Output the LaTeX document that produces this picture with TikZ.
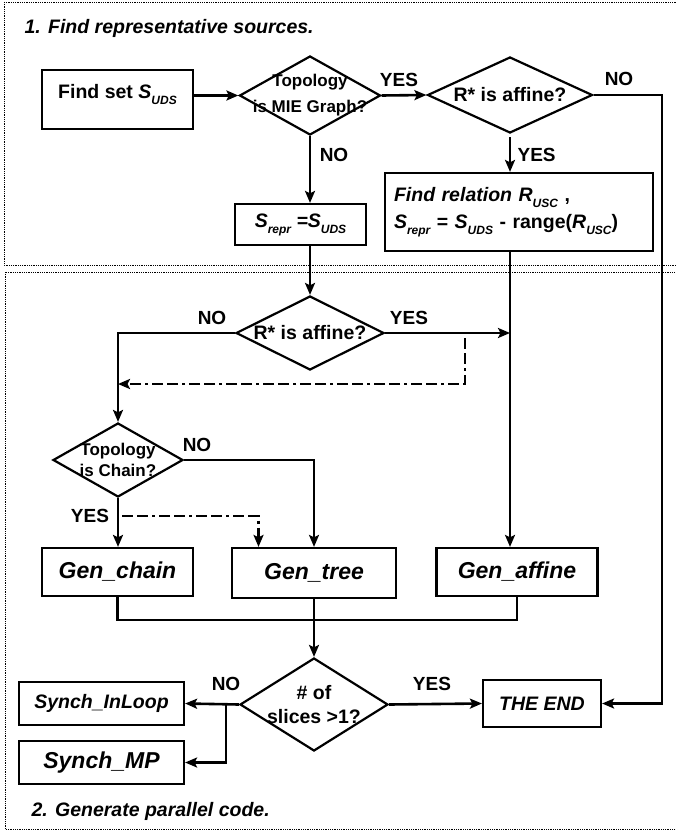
\documentclass[tikz,border=0pt]{standalone}
\usepackage{fontspec}
\setmainfont{Liberation Sans}
\usepackage{tikz}
\usetikzlibrary{arrows.meta,shapes.geometric}
\newcommand{\lowsub}[1]{\raisebox{-6pt}{\fontsize{12}{12}\selectfont #1}}
\newcommand{\fsz}[1]{\fontsize{#1}{#1}\selectfont}

\begin{document}
\begin{tikzpicture}[x=1pt,y=-1pt,line width=2.6pt,
  >={Stealth[length=12pt,width=10pt,inset=2.5pt]},
  box/.style={draw,rectangle,line width=2.2pt,inner sep=0pt,font=\bfseries\fsz{19.5}},
  decide/.style={draw,diamond,line width=2.2pt,inner sep=-4pt,font=\bfseries\fsz{19.5},align=center},
  answer/.style={font=\bfseries\fsz{19}},
  dashdot/.style={dash pattern=on 11pt off 4pt on 11pt off 4pt on 3pt off 4pt,line width=2.6pt},
  frame/.style={densely dotted,line width=0.8pt}]
\useasboundingbox (0,0) rectangle (676,832);
\draw[frame] (4,2) rectangle (690,265);
\draw[frame] (5,272) rectangle (690,829);
\node[anchor=west,font=\bfseries\itshape\fsz{19.5}] (title1) at (20,28) {1. Find representative sources.};
\node[anchor=west,font=\bfseries\itshape\fsz{19.5}] (title2) at (27,811) {2. Generate parallel code.};

\node[box,minimum width=151pt,minimum height=59pt] (find) at (117.5,99.5)
  {Find set \textit{S\lowsub{UDS}}\rule[-17pt]{0pt}{0pt}};
\node[decide,minimum width=141pt,minimum height=79pt,shape aspect=1.78,font=\bfseries\fsz{17},inner sep=-14pt] (mie) at (310,95.5)
  {Topology\\[9pt]is MIE Graph?};
\node[decide,minimum width=165pt,minimum height=76pt,shape aspect=2.17] (aff1) at (510,95) {R* is affine?};
\node[box,minimum width=131pt,minimum height=41pt,font=\bfseries\itshape\fsz{19.5}] (srepr) at (300.5,224.5)
  {S\lowsub{repr} =S\lowsub{UDS}};
\node[box,minimum width=268pt,minimum height=78pt,text width=250pt,align=left] (rel) at (519,212)
  {\textit{Find relation R\lowsub{USC}} ,\\[6pt]
   \textit{S\lowsub{repr}} = \textit{S\lowsub{UDS}} - range(\textit{R\lowsub{USC}})};

\node[decide,minimum width=148pt,minimum height=74pt,shape aspect=2] (aff2) at (310,333) {R* is affine?};
\node[decide,minimum width=130pt,minimum height=74pt,shape aspect=1.76,font=\bfseries\fsz{17},inner sep=-10pt] (chainq) at (118,460)
  {Topology\\[4pt]is Chain?};

\node[box,minimum width=151pt,minimum height=48pt,font=\bfseries\itshape\fsz{23}] (gchain) at (117.5,572) {Gen\_chain};
\node[box,minimum width=164pt,minimum height=50pt,font=\bfseries\itshape\fsz{23}] (gtree) at (314,573) {Gen\_tree};
\node[box,minimum width=161pt,minimum height=48pt,font=\bfseries\itshape\fsz{23}] (gaff) at (517,572) {Gen\_affine};

\node[decide,minimum width=148pt,minimum height=93pt,shape aspect=1.6,font=\bfseries\fsz{19.5},inner sep=-8pt] (slices) at (314,704.5)
  {\# of\\[4pt]slices >1?};
\node[box,minimum width=118pt,minimum height=47pt,font=\bfseries\itshape\fsz{19.5}] (theend) at (542,703.5) {THE END};
\node[box,minimum width=165pt,minimum height=43pt,font=\bfseries\itshape\fsz{19.5}] (inloop) at (101.5,703.5) {Synch\_InLoop};
\node[box,minimum width=165pt,minimum height=43pt,font=\bfseries\itshape\fsz{23}] (mp) at (101.5,762.5) {Synch\_MP};

\coordinate (rt) at (662,95);
\coordinate (da) at (465,338);
\coordinate (db) at (465,384);
\coordinate (dc) at (122,516);
\coordinate (dd) at (258.5,516);
\coordinate (br) at (226,704.5);

\draw[->] (find.east |- mie.west) -- (mie.west);
\draw[->] (mie.east) -- (aff1.west);
\draw[->] (aff1.east) -- (rt) |- (theend.east);
\draw[->,shorten <=3pt] (aff1.south) -- (aff1.south |- rel.north);
\draw[->] (mie.south) -- (mie.south |- srepr.north);
\draw[->] (mie.south |- srepr.south) -- (aff2.north);
\draw[->] (aff2.west) -| (chainq.north);
\draw[->] (aff2.east) -- (aff1.south |- aff2.east);
\draw[->] (aff1.south |- rel.south) -- (aff1.south |- gaff.north);
\draw[->,dashdot] (da) -- (db) -- (chainq.north |- db);
\draw[->] (chainq.east) -| (gtree.north);
\draw[->] (chainq.south) -- (chainq.south |- gchain.north);
\draw[->,dashdot] (dc) -- (dd) -- (dd |- gtree.north);
\draw (gchain.south) -- ++(0,23) -| (gaff.south);
\draw[->] (gtree.south) -- (slices.north);
\draw[->] (slices.east) -- (theend.west);
\draw[->] (slices.west) -- (inloop.east);
\draw[->] (br) |- (mp.east);

\node[answer] (y1) at (399,80) {YES};
\node[answer] (n1) at (619,79) {NO};
\node[answer,anchor=west] (y2) at (513,155) {YES};
\node[answer] (n2) at (334,155) {NO};
\node[answer] (n3) at (212,318) {NO};
\node[answer] (y3) at (409,318) {YES};
\node[answer] (n4) at (197,445) {NO};
\node[answer] (y4) at (90,516) {YES};
\node[answer] (n5) at (226,684) {NO};
\node[answer] (y5) at (432,684) {YES};
\end{tikzpicture}
\end{document}
